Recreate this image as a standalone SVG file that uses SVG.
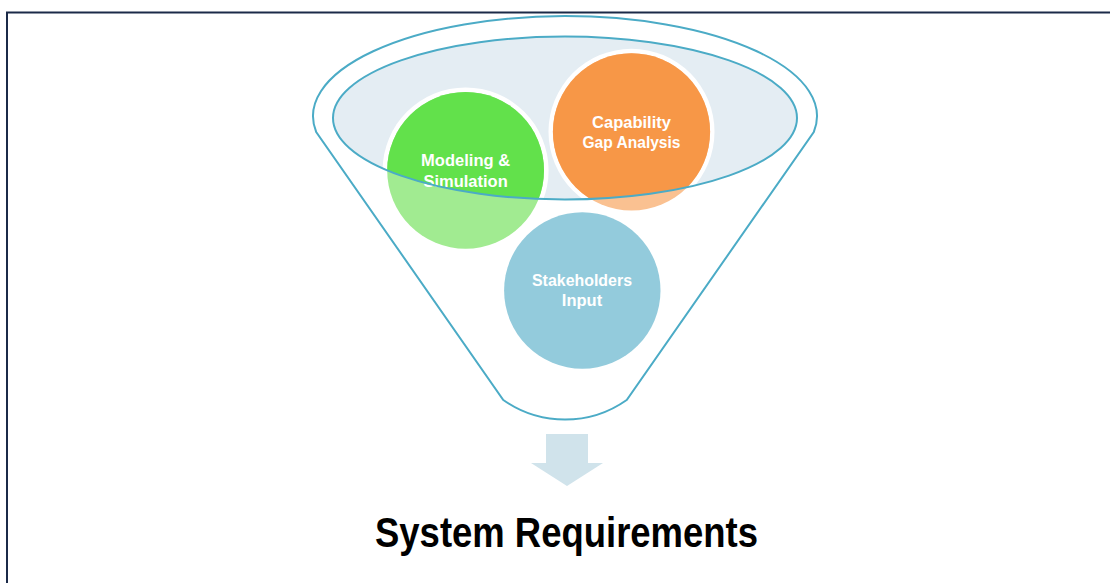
<svg xmlns="http://www.w3.org/2000/svg" width="1110" height="583" viewBox="0 0 1110 583">
  <style>
    .funnel { fill: none; stroke: #4babc6; stroke-width: 2; }
    .lbl { font-family: "Liberation Sans", Arial, sans-serif; font-weight: bold; font-size: 16.5px; fill: #ffffff; text-anchor: middle; }
    .title { font-family: "Liberation Sans", Arial, sans-serif; font-weight: bold; font-size: 42px; fill: #000000; text-anchor: middle; }
  </style>
  <defs>
    <clipPath id="innerClip">
      <ellipse cx="565" cy="118" rx="232" ry="81.5"/>
    </clipPath>
  </defs>
  <rect x="0" y="0" width="1110" height="583" fill="#ffffff"/>
  <g id="frame">
    <path d="M7 583 L7 12.5 L1110 12.5" fill="none" stroke="#1b2a48" stroke-width="2"/>
  </g>
  <g id="funnel">
    <path class="funnel" d="M316.2 132 A252 100 0 1 1 813.8 132 L626.7 400 A107 107 0 0 1 503.3 400 Z"/>
    <ellipse cx="565" cy="118" rx="232" ry="81.5" fill="#e4edf3"/>
  </g>
  <g id="node-modeling">
    <circle cx="465.6" cy="170.4" r="83" fill="#ffffff" clip-path="url(#innerClip)"/>
    <circle cx="465.6" cy="170.4" r="78.4" fill="#a1eb91"/>
    <circle cx="465.6" cy="170.4" r="78.4" fill="#62e14b" clip-path="url(#innerClip)"/>
    <text class="lbl" x="465.6" y="166" textLength="89" lengthAdjust="spacingAndGlyphs">Modeling &amp;</text>
    <text class="lbl" x="465.6" y="187">Simulation</text>
  </g>
  <g id="node-capability">
    <circle cx="631.5" cy="131.8" r="83" fill="#ffffff" clip-path="url(#innerClip)"/>
    <circle cx="631.5" cy="131.8" r="78.6" fill="#fac191"/>
    <circle cx="631.5" cy="131.8" r="78.6" fill="#f79747" clip-path="url(#innerClip)"/>
    <text class="lbl" x="631.5" y="127.5">Capability</text>
    <text class="lbl" x="631.5" y="147.5" textLength="98" lengthAdjust="spacingAndGlyphs">Gap Analysis</text>
  </g>
  <g id="node-stakeholders">
    <circle cx="582.3" cy="290.5" r="78.2" fill="#93cbdc"/>
    <text class="lbl" x="582" y="286" textLength="100" lengthAdjust="spacingAndGlyphs">Stakeholders</text>
    <text class="lbl" x="582" y="306">Input</text>
  </g>
  <g id="funnel-rim">
    <ellipse cx="565" cy="118" rx="232" ry="81.5" fill="none" stroke="#4babc6" stroke-width="2"/>
  </g>
  <g id="connectors">
    <path d="M546 434 L588 434 L588 463 L603 463 L567 486 L531 463 L546 463 Z" fill="#d0e3eb"/>
  </g>
  <g id="node-system-requirements">
    <text class="title" x="566.5" y="546.5" textLength="383" lengthAdjust="spacingAndGlyphs">System Requirements</text>
  </g>
</svg>
